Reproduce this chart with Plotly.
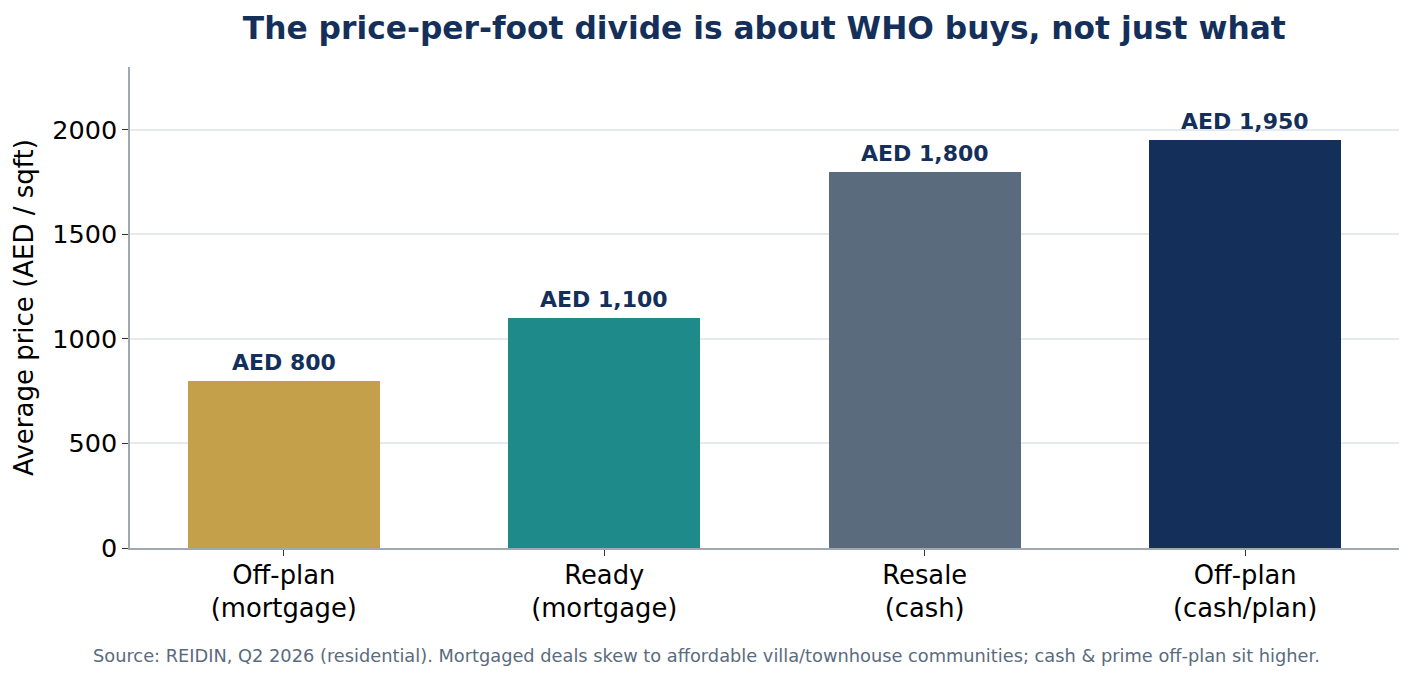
import plotly.graph_objects as go

categories = ["Off-plan<br>(mortgage)", "Ready<br>(mortgage)", "Resale<br>(cash)", "Off-plan<br>(cash/plan)"]
values = [800, 1100, 1800, 1950]
labels = ["AED 800", "AED 1,100", "AED 1,800", "AED 1,950"]
colors = ["#C5A04A", "#1F8A8A", "#5A6B7D", "#14305A"]
yticks = [0, 500, 1000, 1500, 2000]

x = list(range(len(categories)))

fig = go.Figure()
fig.add_trace(go.Bar(x=x, y=values, marker=dict(color=colors, line=dict(width=0)),
                     width=0.6, hoverinfo="skip"))

for xi, v, lab in zip(x, values, labels):
    fig.add_annotation(x=xi, y=v, text="<b>" + lab + "</b>", showarrow=False,
                       yanchor="bottom", yshift=4,
                       font=dict(family="DejaVu Sans", size=22, color="#14305A"))

fig.add_annotation(xref="paper", yref="paper", x=0.4543, y=-0.2235, xanchor="center", yanchor="middle",
                   text="Source: REIDIN, Q2 2026 (residential). Mortgaged deals skew to affordable villa/townhouse communities; cash & prime off-plan sit higher.",
                   showarrow=False, font=dict(family="DejaVu Sans", size=17.8, color="#5A6B7D"))

fig.update_layout(
    width=1413, height=679,
    margin=dict(l=130, r=14, t=67, b=131),
    paper_bgcolor="white", plot_bgcolor="white",
    showlegend=False,
    bargap=0,
    title=dict(text="<b>The price-per-foot divide is about WHO buys, not just what</b>",
               x=0.5409, xanchor="center", y=0.958, yanchor="middle",
               font=dict(family="DejaVu Sans", size=31.3, color="#14305A")),
    font=dict(family="DejaVu Sans", color="black"),
)
fig.update_xaxes(range=[-0.48, 3.48], tickvals=x, ticktext=categories,
                 showline=True, linecolor="#A0A8B2", linewidth=1.5,
                 ticks="outside", ticklen=6, tickcolor="#333333",
                 ticklabelstandoff=-3,
                 showgrid=False, zeroline=False, tickfont=dict(size=25.8, color="black"))
fig.update_yaxes(range=[0, 2300], tickvals=yticks, ticktext=[str(t) for t in yticks],
                 showline=True, linecolor="#A0A8B2", linewidth=1.5,
                 ticks="outside", ticklen=6, tickcolor="#333333",
                 showgrid=True, gridcolor="#E6E9ED", gridwidth=1.5, zeroline=False,
                 tickfont=dict(size=25.5, color="black"),
                 title=dict(text="Average price (AED / sqft)", font=dict(size=26, color="black"), standoff=11))

fig.write_html("out.html")
